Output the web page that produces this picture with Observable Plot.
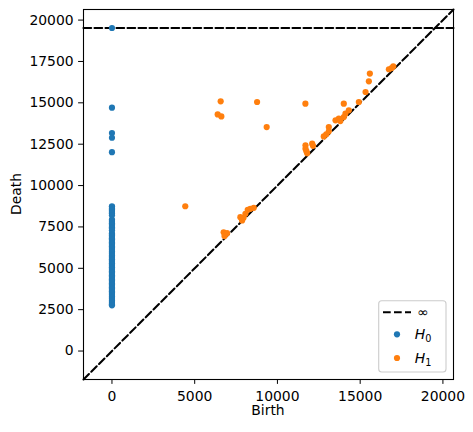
<!DOCTYPE html>
<html><head><meta charset="utf-8">
<script src="https://cdn.jsdelivr.net/npm/d3@7"></script>
<script src="https://cdn.jsdelivr.net/npm/@observablehq/plot@0.6"></script>
<style>body{margin:0;background:#fff}</style>
</head><body><div id="chart"></div>
<script>
// H0 (births are all 0); first death is infinite
const h0Deaths = [Infinity, 14710, 13170, 12890, 12020,
  8750, 8700, 8620, 8560, 8480, 8400, 8330, 8200, 7950, 7870, 7800, 7720, 7650, 7560, 7480, 7400,
  7300, 7120, 7050, 6980, 6900, 6820, 6750, 6660, 6580, 6500, 6420, 6340, 6260, 6180, 6100, 6020,
  5940, 5860, 5780, 5700, 5620, 5540, 5460, 5380, 5300, 5220, 5140, 5060, 4980, 4900, 4820, 4740,
  4660, 4580, 4500, 4420, 4340, 4260, 4180, 4100, 4020, 3940, 3860, 3780, 3700, 3620, 3540, 3460,
  3380, 3300, 3220, 3140, 3060, 2980, 2900, 2830, 2760];
const h0Births = h0Deaths.map(() => 0);

const h1Births = [4430, 6570, 6390, 6610, 8770, 9350, 11690, 14010,
  6750, 6855, 6955, 6800,
  7760, 7865, 8065, 8205, 8365, 8570, 7950,
  11695, 11695, 12100, 11795, 11750, 12150,
  12800, 13105, 13105, 12950,
  13510, 13710, 14110, 14315, 14010, 13800,
  14920, 15325, 15525, 15585, 16735, 17000, 16900];
const h1Deaths = [8750, 15090, 14300, 14180, 15050, 13535, 14950, 14950,
  7180, 7040, 7120, 6950,
  8090, 7890, 8290, 8535, 8595, 8655, 8050,
  12430, 12230, 12530, 11960, 12080, 12400,
  12970, 13535, 13275, 13100,
  13940, 14040, 14345, 14545, 14140, 13900,
  15050, 15655, 16300, 16770, 17030, 17200, 17100];

const xTicks = [0, 5000, 10000, 15000, 20000];
const yTicks = [0, 2500, 5000, 7500, 10000, 12500, 15000, 17500, 20000];

const finite = [...h0Births, ...h0Deaths, ...h1Births, ...h1Deaths].filter(Number.isFinite);
const axMin = d3.min(finite), axMax = d3.max(finite);
const buffer = (axMax - axMin) / 5;
const lo = axMin - buffer / 2, hi = axMax + buffer;
const bInf = lo + (hi - lo) * 0.95;

const h0 = h0Births.map((b, i) => ({b, d: Number.isFinite(h0Deaths[i]) ? h0Deaths[i] : bInf}));
const h1 = h1Births.map((b, i) => ({b, d: h1Deaths[i]}));
const dash = "7.7,3.3";
const FS = 13.9;

const plot = Plot.plot({
  width: 473, height: 432,
  marginLeft: 83, marginRight: 20, marginTop: 9, marginBottom: 53,
  x: {domain: [lo, hi]}, y: {domain: [lo, hi]},
  style: {fontFamily: "DejaVu Sans", fontSize: FS + "px", background: "white", color: "black"},
  marks: [
    Plot.line([[lo, lo], [hi, hi]], {x: d => d[0], y: d => d[1], stroke: "black", strokeWidth: 2.08, strokeDasharray: dash}),
    Plot.line([[lo, bInf], [hi, bInf]], {x: d => d[0], y: d => d[1], stroke: "black", strokeWidth: 2.08, strokeDasharray: dash}),
    Plot.dot(h0, {x: "b", y: "d", r: 3.1, fill: "#1f77b4", stroke: null}),
    Plot.dot(h1, {x: "b", y: "d", r: 3.1, fill: "#ff7f0e", stroke: null}),
    Plot.frame({stroke: "black", strokeWidth: 1.1}),
    Plot.axisX({ticks: xTicks, tickFormat: d3.format("d"), tickSize: 4.9, tickPadding: 6.5, fontSize: FS, label: null}),
    Plot.axisY({ticks: yTicks, tickFormat: d3.format("d"), tickSize: 4.9, tickPadding: 5, fontSize: FS, label: null})
  ]
});
document.getElementById("chart").append(plot);

const svg = d3.select(plot);
svg.append("text").attr("x", 268).attr("y", 411).attr("text-anchor", "middle").attr("font-size", FS)
  .attr("dominant-baseline", "middle").attr("fill", "black").text("Birth");
svg.append("text").attr("transform", "translate(17,194) rotate(-90)").attr("text-anchor", "middle").attr("font-size", FS)
  .attr("dominant-baseline", "middle").attr("fill", "black").text("Death");

const lg = svg.append("g").attr("font-size", FS);
lg.append("rect").attr("x", 378.7).attr("y", 300.7).attr("width", 67.3).attr("height", 71.3)
  .attr("rx", 3).attr("fill", "white").attr("fill-opacity", 0.8).attr("stroke", "#cccccc").attr("stroke-width", 1.1);
lg.append("line").attr("x1", 383).attr("x2", 411).attr("y1", 312.3).attr("y2", 312.3)
  .attr("stroke", "black").attr("stroke-width", 2.08).attr("stroke-dasharray", dash);
lg.append("text").attr("x", 423).attr("y", 313).attr("dominant-baseline", "middle").attr("fill", "black").text("∞");
const items = [["0", "#1f77b4", 334.3], ["1", "#ff7f0e", 358]];
for (const [sub, col, cy] of items) {
  lg.append("circle").attr("cx", 397).attr("cy", cy).attr("r", 3.1).attr("fill", col);
  const t = lg.append("text").attr("x", 423).attr("y", cy + 5).attr("fill", "black");
  t.append("tspan").attr("font-style", "italic").text("H");
  t.append("tspan").attr("font-size", "9.7px").attr("dy", 2.5).text(sub);
}
</script>
</body></html>
